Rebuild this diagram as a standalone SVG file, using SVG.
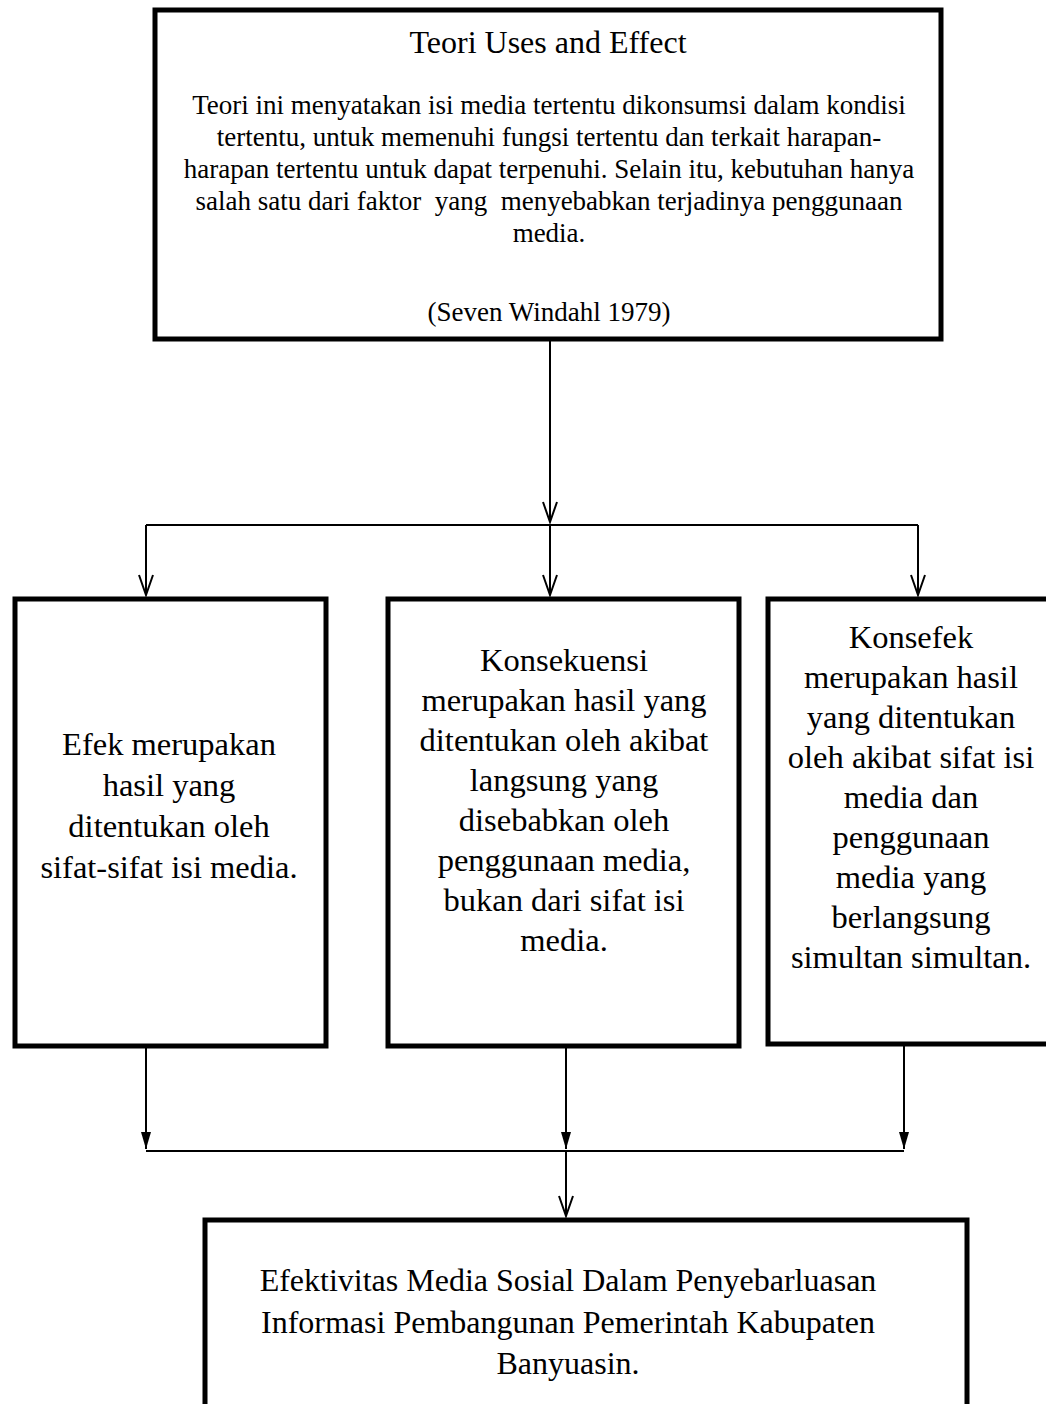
<svg xmlns="http://www.w3.org/2000/svg" width="1046" height="1404" viewBox="0 0 1046 1404">
<style>
.box{fill:#fff;stroke:#000;stroke-width:5}
.t{font-family:"Liberation Serif","Times New Roman",serif;fill:#000;text-anchor:middle}
.title{font-size:32px}
.body{font-size:27px}
.big{font-size:32.5px}
.bot{font-size:32px}
.ln{stroke:#000;stroke-width:2;fill:none}
</style>
<defs>
<marker id="open" markerWidth="24" markerHeight="24" refX="12" refY="22" markerUnits="userSpaceOnUse" viewBox="0 0 24 24">
<path d="M5,2 L12,22 L19,2" fill="none" stroke="#000" stroke-width="2"/>
</marker>
<marker id="fill" markerWidth="16" markerHeight="20" refX="8" refY="19" markerUnits="userSpaceOnUse" viewBox="0 0 16 20">
<path d="M3,2 L8,19 L13,2 Z" fill="#000"/>
</marker>
</defs>
<g id="connectors">
<line class="ln" x1="550" y1="340" x2="550" y2="522" marker-end="url(#open)"/>
<line class="ln" x1="146" y1="525" x2="918" y2="525"/>
<line class="ln" x1="146" y1="525" x2="146" y2="595" marker-end="url(#open)"/>
<line class="ln" x1="550" y1="525" x2="550" y2="595" marker-end="url(#open)"/>
<line class="ln" x1="918" y1="525" x2="918" y2="595" marker-end="url(#open)"/>
<line class="ln" x1="146" y1="1047" x2="146" y2="1149" marker-end="url(#fill)"/>
<line class="ln" x1="566" y1="1047" x2="566" y2="1149" marker-end="url(#fill)"/>
<line class="ln" x1="904" y1="1045" x2="904" y2="1149" marker-end="url(#fill)"/>
<line class="ln" x1="146" y1="1151" x2="904" y2="1151"/>
<line class="ln" x1="566" y1="1151" x2="566" y2="1216" marker-end="url(#open)"/>
</g>
<g id="node-top">
<rect class="box" x="155" y="10" width="786" height="329"/>
<text class="t title" x="548" y="53">Teori Uses and Effect</text>
<text class="t body" x="549" y="114">Teori ini menyatakan isi media tertentu dikonsumsi dalam kondisi</text>
<text class="t body" x="549" y="146">tertentu, untuk memenuhi fungsi tertentu dan terkait harapan-</text>
<text class="t body" x="549" y="178">harapan tertentu untuk dapat terpenuhi. Selain itu, kebutuhan hanya</text>
<text class="t body" x="549" y="210" xml:space="preserve">salah satu dari faktor  yang  menyebabkan terjadinya penggunaan</text>
<text class="t body" x="549" y="242">media.</text>
<text class="t body" x="549" y="321">(Seven Windahl 1979)</text>
</g>
<g id="node-efek">
<rect class="box" x="15" y="599" width="311" height="447"/>
<text class="t big" x="169" y="755">Efek merupakan</text>
<text class="t big" x="169" y="796">hasil yang</text>
<text class="t big" x="169" y="837">ditentukan oleh</text>
<text class="t big" x="169" y="878">sifat-sifat isi media.</text>
</g>
<g id="node-konsekuensi">
<rect class="box" x="388" y="599" width="351" height="447"/>
<text class="t big" x="564" y="671">Konsekuensi</text>
<text class="t big" x="564" y="711">merupakan hasil yang</text>
<text class="t big" x="564" y="751">ditentukan oleh akibat</text>
<text class="t big" x="564" y="791">langsung yang</text>
<text class="t big" x="564" y="831">disebabkan oleh</text>
<text class="t big" x="564" y="871">penggunaan media,</text>
<text class="t big" x="564" y="911">bukan dari sifat isi</text>
<text class="t big" x="564" y="951">media.</text>
</g>
<g id="node-konsefek">
<rect class="box" x="768" y="599" width="290" height="445"/>
<text class="t big" x="911" y="648">Konsefek</text>
<text class="t big" x="911" y="688">merupakan hasil</text>
<text class="t big" x="911" y="728">yang ditentukan</text>
<text class="t big" x="911" y="768">oleh akibat sifat isi</text>
<text class="t big" x="911" y="808">media dan</text>
<text class="t big" x="911" y="848">penggunaan</text>
<text class="t big" x="911" y="888">media yang</text>
<text class="t big" x="911" y="928">berlangsung</text>
<text class="t big" x="911" y="968">simultan simultan.</text>
</g>
<g id="node-bottom">
<rect class="box" x="205" y="1220" width="762" height="200"/>
<text class="t bot" x="568" y="1291">Efektivitas Media Sosial Dalam Penyebarluasan</text>
<text class="t bot" x="568" y="1333">Informasi Pembangunan Pemerintah Kabupaten</text>
<text class="t bot" x="568" y="1374">Banyuasin.</text>
</g>
</svg>
